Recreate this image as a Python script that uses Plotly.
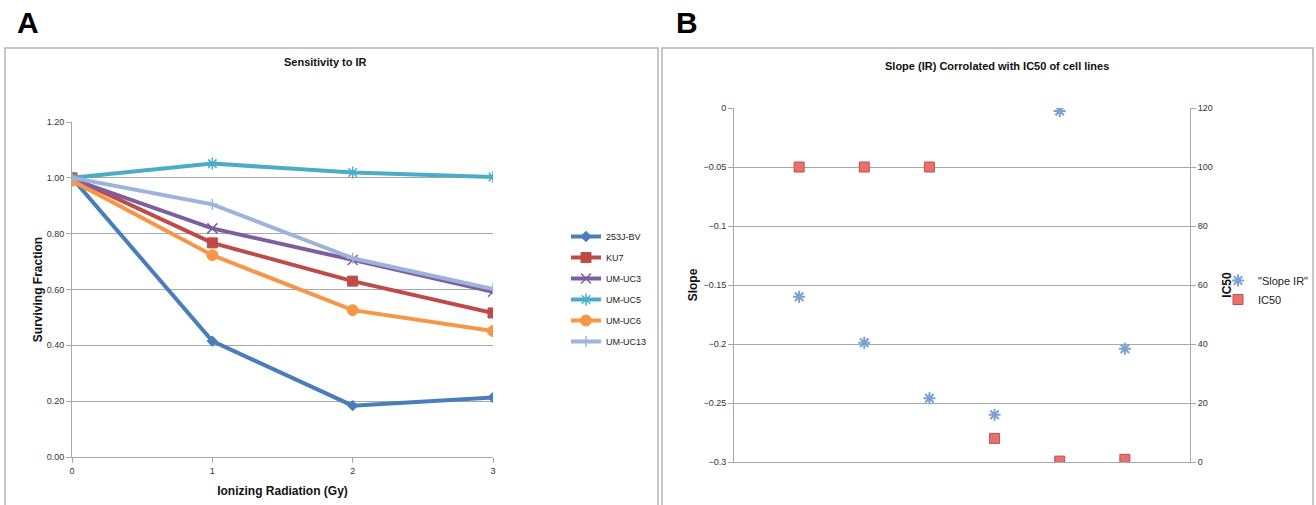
import plotly.graph_objects as go

FONT = "Liberation Sans, Arial, sans-serif"

# ---------------- Panel A data ----------------
doses = [0, 1, 2, 3]
dose_ticks = ["0", "1", "2", "3"]
cell_lines = ["253J-BV", "KU7", "UM-UC3", "UM-UC5", "UM-UC6", "UM-UC13"]
sf_253J = [1.00, 0.415, 0.184, 0.213]
sf_KU7 = [1.00, 0.767, 0.630, 0.516]
sf_UC3 = [0.995, 0.819, 0.706, 0.592]
sf_UC5 = [1.00, 1.051, 1.019, 1.003]
sf_UC6 = [0.99, 0.723, 0.526, 0.451]
sf_UC13 = [1.00, 0.905, 0.712, 0.602]
series_A = [sf_253J, sf_KU7, sf_UC3, sf_UC5, sf_UC6, sf_UC13]

# ---------------- Panel B data ----------------
cell_index = [1, 2, 3, 4, 5, 6]
slope_ir = [-0.160, -0.199, -0.246, -0.260, -0.0025, -0.204]
ic50 = [100, 100, 100, 8, 0.3, 0.9]

colors_A = ["#4A7EBB", "#BE4B48", "#7D5FA0", "#4BACC6", "#F79646", "#9DB3DC"]
symbols_A = ["diamond", "square", "x-thin-open", "asterisk-open", "circle", "cross-thin-open"]
msize_A = [8, 10, 10, 10, 11, 8]

W, H = 1316, 505
def px(x):
    return x / W
def py(y):
    return (H - y) / H

fig = go.Figure()

for name, vals, c, s, ms in zip(cell_lines, series_A, colors_A, symbols_A, msize_A):
    mk = dict(symbol=s, size=ms, color=c)
    if s.endswith("open"):
        mk["line"] = dict(color=c, width=1.5)
    else:
        mk["line"] = dict(color=c, width=1)
    fig.add_trace(go.Scatter(
        x=doses, y=vals, name=name, mode="lines+markers",
        line=dict(color=c, width=4), marker=mk,
        xaxis="x", yaxis="y", legend="legend", legendgroup=name,
    ))

fig.add_trace(go.Scatter(
    x=cell_index, y=slope_ir, name='"Slope IR"', mode="markers",
    marker=dict(symbol="asterisk-open", size=10, color="#7BA0D2",
                line=dict(color="#7BA0D2", width=2)),
    xaxis="x2", yaxis="y2", legend="legend2",
))
fig.add_trace(go.Scatter(
    x=cell_index, y=ic50, name="IC50", mode="markers",
    marker=dict(symbol="square", size=10, color="#E8716E",
                line=dict(color="#C0504D", width=1)),
    xaxis="x2", yaxis="y3", legend="legend2",
))

grid = "#A8A8A8"
tickfont = dict(family=FONT, size=9, color="#333333")

fig.update_layout(
    width=W, height=H,
    margin=dict(l=0, r=0, t=0, b=0, pad=0),
    paper_bgcolor="white", plot_bgcolor="white",
    font=dict(family=FONT, color="#222222"),
    showlegend=True,
    xaxis=dict(
        domain=[px(72), px(493)], range=[0, 3], anchor="y", automargin=False,
        tickvals=doses, ticktext=dose_ticks, ticks="outside", ticklen=5,
        tickcolor=grid, showline=True, linecolor=grid, linewidth=1,
        showgrid=False, zeroline=False, tickfont=tickfont,
        title=dict(text="<b>Ionizing Radiation (Gy)</b>",
                   font=dict(family=FONT, size=12, color="#111111"), standoff=11),
    ),
    yaxis=dict(
        domain=[py(457), py(122)], range=[0, 1.2], anchor="x", automargin=False,
        dtick=0.2, tickformat=".2f", ticks="outside", ticklen=5,
        tickcolor=grid, showline=True, linecolor=grid, linewidth=1,
        showgrid=True, gridcolor=grid, gridwidth=1, zeroline=False,
        tickfont=tickfont,
        title=dict(text="<b>Surviving Fraction</b>",
                   font=dict(family=FONT, size=12, color="#111111"), standoff=1),
    ),
    xaxis2=dict(
        domain=[px(734), px(1190)], range=[0, 7], anchor="y2", automargin=False,
        showticklabels=False, ticks="", showgrid=False, zeroline=False,
        showline=True, linecolor=grid, linewidth=1,
    ),
    yaxis2=dict(
        domain=[py(462), py(108)], range=[-0.3, 0], anchor="x2", automargin=False,
        dtick=0.05, ticks="outside", ticklen=5, tickcolor=grid,
        showline=True, linecolor=grid, linewidth=1,
        showgrid=True, gridcolor=grid, gridwidth=1, zeroline=False,
        tickfont=tickfont,
        title=dict(text="<b>Slope</b>",
                   font=dict(family=FONT, size=12, color="#111111"), standoff=3),
    ),
    yaxis3=dict(
        domain=[py(462), py(108)], range=[0, 120], anchor="x2", overlaying="y2",
        automargin=False,
        side="right", dtick=20, ticks="outside", ticklen=5, tickcolor=grid,
        showline=True, linecolor=grid, linewidth=1,
        showgrid=False, zeroline=False, tickfont=tickfont,
        title=dict(text="<b>IC50</b>",
                   font=dict(family=FONT, size=12, color="#111111"), standoff=10),
    ),
    legend=dict(
        x=px(566), y=py(222), xanchor="left", yanchor="top",
        font=dict(family=FONT, size=9, color="#222222"),
        bgcolor="rgba(0,0,0,0)", tracegroupgap=2, itemwidth=30,
        traceorder="grouped",
    ),
    legend2=dict(
        x=px(1218), y=py(266), xanchor="left", yanchor="top",
        font=dict(family=FONT, size=11, color="#222222"),
        bgcolor="rgba(0,0,0,0)", itemwidth=30,
    ),
    shapes=[
        dict(type="rect", xref="paper", yref="paper",
             x0=px(5), x1=px(658), y0=-0.05, y1=py(48),
             line=dict(color="#B4B4B4", width=1.5)),
        dict(type="rect", xref="paper", yref="paper",
             x0=px(662), x1=px(1313), y0=-0.05, y1=py(48),
             line=dict(color="#B4B4B4", width=1.5)),
    ],
    annotations=[
        dict(text="<b>A</b>", xref="paper", yref="paper", x=px(15), y=py(22),
             xanchor="left", yanchor="middle", showarrow=False,
             font=dict(family=FONT, size=30, color="black")),
        dict(text="<b>B</b>", xref="paper", yref="paper", x=px(674), y=py(22),
             xanchor="left", yanchor="middle", showarrow=False,
             font=dict(family=FONT, size=30, color="black")),
        dict(text="<b>Sensitivity to IR</b>", xref="paper", yref="paper",
             x=px(325), y=py(62), xanchor="center", yanchor="middle",
             showarrow=False, font=dict(family=FONT, size=11, color="#111111")),
        dict(text="<b>Slope (IR) Corrolated with IC50 of cell lines</b>",
             xref="paper", yref="paper", x=px(997), y=py(66),
             xanchor="center", yanchor="middle", showarrow=False,
             font=dict(family=FONT, size=11, color="#111111")),
    ],
)

fig.write_html("out.html")
